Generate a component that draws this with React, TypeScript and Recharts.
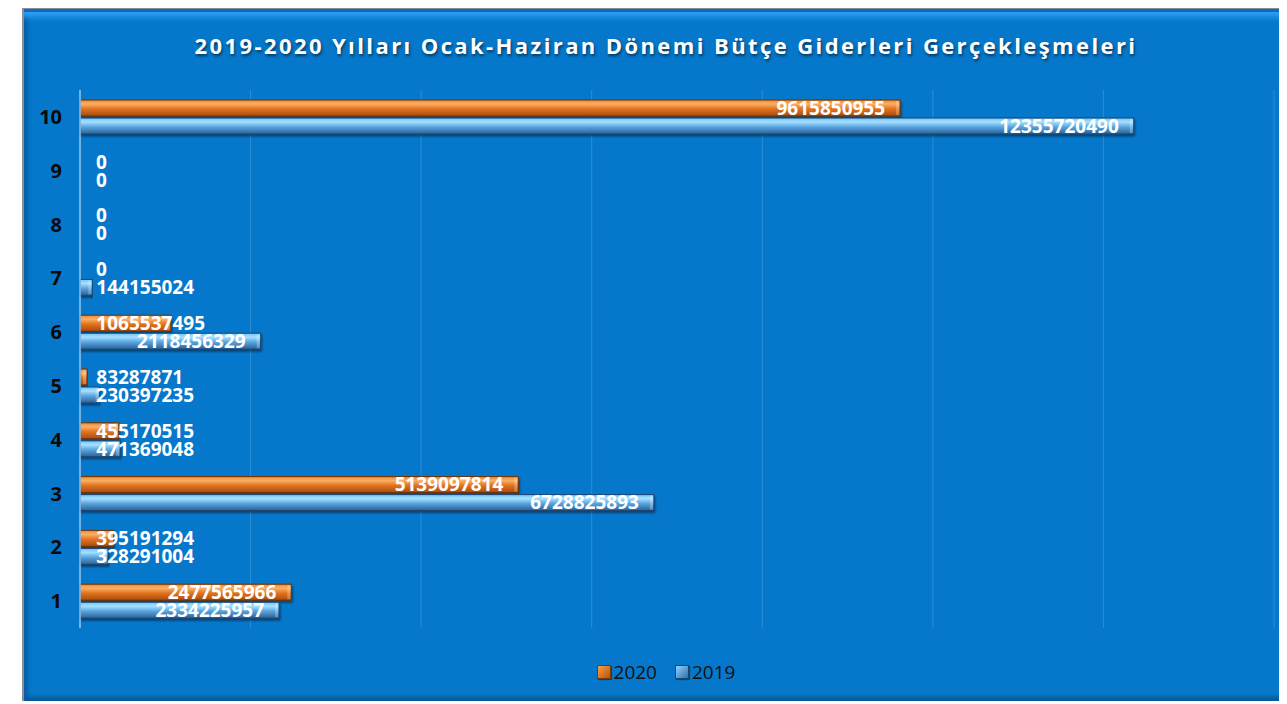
import { BarChart, Bar, XAxis, YAxis, CartesianGrid, Legend, LabelList } from 'recharts'

const categories = ['1', '2', '3', '4', '5', '6', '7', '8', '9', '10']
const values2020 = [2477565966, 395191294, 5139097814, 455170515, 83287871, 1065537495, 0, 0, 0, 9615850955]
const values2019 = [2334225957, 328291004, 6728825893, 471369048, 230397235, 2118456329, 144155024, 0, 0, 12355720490]
const xTicks = [0, 2e9, 4e9, 6e9, 8e9, 10e9, 12e9, 14e9]

const title = '2019-2020 Yılları Ocak-Haziran Dönemi Bütçe Giderleri Gerçekleşmeleri'
const font = '"Open Sans", sans-serif'

const chartData = categories.map((c, i) => ({ name: c, y2020: values2020[i], y2019: values2019[i] }))

const renderLabel = (props: any) => {
  const { x, y, width, height, value } = props
  const text = String(value)
  const est = text.length * 10.9
  const endX = Math.max(x + width - 15, x + 16 + est)
  return (
    <text x={endX} y={y + height / 2} dy="0.36em" textAnchor="end" fill="#fff" fontWeight={700} fontSize={19} fontFamily={font}>
      {text}
    </text>
  )
}

const barShape = (grad: string, edge: string) => (props: any) => {
  const { x, y, width, height } = props
  if (!width || width <= 0) return <g />
  return (
    <g filter="url(#shadow)">
      <rect x={x} y={y} width={width} height={height} fill={`url(#${grad})`} stroke={edge} strokeWidth={1} />
      <rect x={x + width - 4} y={y + 1} width={3} height={height - 2} fill="rgba(255,255,255,0.25)" />
    </g>
  )
}

const renderLegend = () => (
  <div style={{ display: 'flex', justifyContent: 'center', gap: 18, height: 24, alignItems: 'center', fontFamily: font, fontSize: 19, color: '#111' }}>
    {[
      { label: '2020', from: '#f7a04a', to: '#b8520c', edge: '#7a3606' },
      { label: '2019', from: '#8fd3ff', to: '#2f6fae', edge: '#1d4670' },
    ].map(item => (
      <span key={item.label} style={{ display: 'flex', alignItems: 'center', gap: 3 }}>
        <span style={{ width: 12, height: 12, background: `linear-gradient(135deg, ${item.from}, ${item.to})`, border: `1px solid ${item.edge}`, boxShadow: '1px 1px 1px rgba(0,0,0,0.4)' }} />
        {item.label}
      </span>
    ))}
  </div>
)

export default function App() {
  return (
    <div style={{ position: 'relative', width: 1279, height: 696 }}>
      <div
        style={{
          position: 'absolute', left: 14, top: -1, width: 1280, height: 692,
          background: '#0678cb',
          borderTop: '2px solid #8a8f96', borderLeft: '2px solid #8a8f96',
          boxShadow: 'inset 0 3px 0 #0a6cc0, inset 0 12px 6px -4px #2fa0f4, inset 4px 0 4px -1px #0a559a, inset 0 -7px 4px -3px #0b5896',
        }}
      />
      <div
        style={{
          position: 'absolute', left: -8, top: 22, width: 1332, textAlign: 'center',
          fontFamily: font, fontWeight: 700, fontSize: 22, letterSpacing: 2.4, color: '#fff',
          textShadow: '1px 2px 3px rgba(0,0,0,0.55)',
        }}
      >
        {title}
      </div>
      <div style={{ position: 'absolute', left: -8, top: -8 }}>
        <BarChart
          width={1287}
          height={704}
          data={chartData}
          layout="vertical"
          margin={{ top: 90, right: 13, left: 20, bottom: 52 }}
          barGap={2}
          barSize={16}
        >
          <defs>
            <linearGradient id="g2020" x1="0" y1="0" x2="0" y2="1">
              <stop offset="0%" stopColor="#f08a2c" />
              <stop offset="25%" stopColor="#fbb066" />
              <stop offset="55%" stopColor="#e27420" />
              <stop offset="100%" stopColor="#a94b0c" />
            </linearGradient>
            <linearGradient id="g2019" x1="0" y1="0" x2="0" y2="1">
              <stop offset="0%" stopColor="#6cc4f7" />
              <stop offset="25%" stopColor="#a6e0ff" />
              <stop offset="55%" stopColor="#5aa6e0" />
              <stop offset="100%" stopColor="#2c5f96" />
            </linearGradient>
            <filter id="shadow" x="-5%" y="-30%" width="110%" height="170%">
              <feDropShadow dx={1} dy={2} stdDeviation={1.2} floodColor="#000" floodOpacity={0.45} />
            </filter>
          </defs>
          <CartesianGrid horizontal={false} vertical stroke="rgba(255,255,255,0.16)" />
          <XAxis type="number" domain={[0, 14e9]} ticks={xTicks} hide />
          <YAxis
            type="category"
            dataKey="name"
            reversed
            width={60}
            axisLine={{ stroke: '#8fc3ee', strokeWidth: 1.5 }}
            tickLine={false}
            tickMargin={12}
            tick={{ fill: '#0a0a0a', fontSize: 20, fontWeight: 700, fontFamily: font }}
          />
          <Legend verticalAlign="bottom" content={renderLegend} wrapperStyle={{ bottom: 20, left: 0, width: 1332 }} />
          <Bar dataKey="y2020" name="2020" shape={barShape('g2020', '#6e3106')} isAnimationActive={false}>
            <LabelList dataKey="y2020" content={renderLabel} />
          </Bar>
          <Bar dataKey="y2019" name="2019" shape={barShape('g2019', '#1c4470')} isAnimationActive={false}>
            <LabelList dataKey="y2019" content={renderLabel} />
          </Bar>
        </BarChart>
      </div>
    </div>
  )
}
